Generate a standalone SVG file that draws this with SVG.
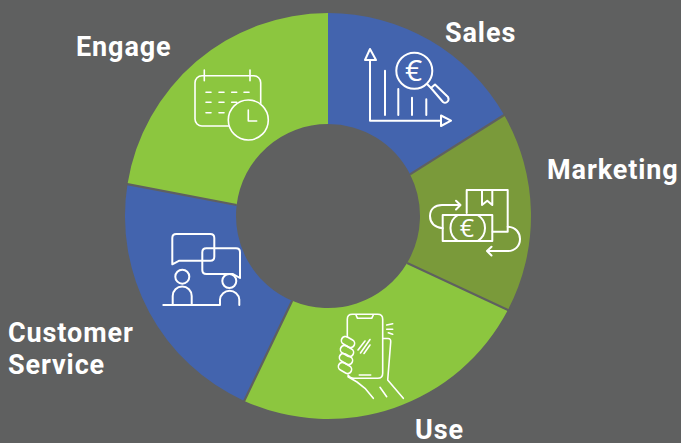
<svg xmlns="http://www.w3.org/2000/svg" width="681" height="443" viewBox="0 0 681 443">
<style>
.blue{fill:#4364ae}
.green{fill:#8cc63f}
.olive{fill:#7a9a3a}
.div{stroke:#5f6060;stroke-width:2.200;fill:none}
.ic{fill:none;stroke:#fff;stroke-width:1.6;stroke-linecap:round;stroke-linejoin:round}
.th{stroke-width:2}
.lab{font-family:"Roboto","Liberation Sans",sans-serif;font-weight:700;font-size:27px;letter-spacing:.9px;fill:#fff}
.eu{font-family:"Open Sans","Liberation Sans",sans-serif;font-weight:400;fill:#fff;text-anchor:middle}
</style>
<rect width="681" height="443" fill="#5f6060"/>
<g id="segments">
<path class="blue" d="M328 13A203 203 0 0 1 504.130 115.100L410.030 174.340A92 92 0 0 0 328 124Z"/>
<path class="olive" d="M504.130 115.100A203 203 0 0 1 507.880 310.090L407.110 262.950A92 92 0 0 0 410.030 174.340Z"/>
<path class="green" d="M507.880 310.090A203 203 0 0 1 244.220 400.880L292.120 300.720A92 92 0 0 0 407.110 262.950Z"/>
<path class="blue" d="M244.220 400.880A203 203 0 0 1 127.500 184.080L236.670 205A92 92 0 0 0 292.120 300.720Z"/>
<path class="green" d="M127.500 184.080A203 203 0 0 1 328 13V124A92 92 0 0 0 236.670 205Z"/>
</g>
<g id="dividers">
<path class="div" d="M505 114.500L410 174.340M509 310.600L407.110 262.950M243.700 402L292.120 300.720M126 183.800L236.670 205"/>
</g>
<g id="sales">
<g class="ic th">
<path d="M370 60V120.700H441M385 70.700V115M398.300 89V115M412 97.700V115M426.300 99.300V115"/>
<path d="M370 49L376 60H365ZM441 115.500L451 120.700L441 126Z"/>
<circle cx="414.300" cy="70.700" r="18"/>
<path d="M427 84L431 88"/>
<path d="M431 88L435 84.500L448 97Q449.500 100 447 102Q445 103.500 443 102Z"/>
</g>
<text class="eu" x="413.500" y="81" font-size="30">€</text>
<text class="lab" x="445" y="42">Sales</text>
</g>
<g id="marketing">
<g class="ic th" stroke-linecap="butt">
<path d="M466.700 213V190H507.700V231.700H492.700"/>
<path d="M482 190V205L487.300 200.700L492.300 205V190"/>
<rect x="442.700" y="215" width="49.600" height="26"/>
<path d="M458 215A15 15 0 0 0 458 241M477.500 215A15 15 0 0 1 477.500 241"/>
<path d="M442.700 228.300C434 227 430 222 430 216C430 209 435 205 442 205H460M456 200.700L460.500 205L456 209.500"/>
<path d="M507.700 226.700C516 227 520 233 520 239C520 246 515 251 508 251H487.500M491.500 246.700L487 251L491.500 255.500"/>
</g>
<text class="eu" x="467" y="237" font-size="25">€</text>
<text class="lab" x="547" y="179">Marketing</text>
</g>
<g id="use">
<g class="ic">
<path d="M347.300 337V319.300Q347.300 314.300 352.300 314.300H377.700Q382.700 314.300 382.700 319.300V373.300Q382.700 378.300 377.700 378.300H354Q350 378.300 348 375"/>
<path d="M356 315L357.500 318.300H371.700L373.300 315M359.300 375H370.700"/>
<path d="M358 350L365 341M360.500 353L370 339.500M364 353.500L370 345"/>
<path d="M386.700 325L392.700 323.700M386.700 329.300L392.700 329.300M388.300 332.700L392.700 334.300"/>
<rect x="341" y="338" width="14" height="8" rx="4" transform="rotate(30 348 342)"/>
<rect x="340" y="347" width="14" height="8" rx="4" transform="rotate(30 347 351)"/>
<rect x="339" y="355" width="14" height="8" rx="4" transform="rotate(30 346 359)"/>
<rect x="338" y="364" width="14" height="8" rx="4" transform="rotate(30 345 368)"/>
<path d="M383 338.500H388Q391 338.500 390.700 342L387.700 380L403.300 398.300"/>
<path d="M348 376.700L357 382L365 388.300L373.300 398.300M380 387.300L386.700 396.700"/>
</g>
<text class="lab" x="415" y="439">Use</text>
</g>
<g id="customer-service">
<g class="ic th">
<path d="M172.300 264.300V238Q172.300 234 176.300 234H210.300Q214.300 234 214.300 238V256.700Q214.300 260.700 210.300 260.700H179.300Z"/>
<path d="M240 278V252.300Q240 248.300 236 248.300H206.300Q202.300 248.300 202.300 252.300V270Q202.300 274 206.300 274H233Z"/>
<circle cx="182.300" cy="276.700" r="7"/>
<circle cx="229.300" cy="281" r="7"/>
<path d="M172.700 305V296A9.500 9.500 0 0 1 191.700 296V305M163.300 305H220V299.500A9.700 9.700 0 0 1 239.300 299.500V305"/>
</g>
<text class="lab" x="8" y="342">Customer</text>
<text class="lab" x="8" y="374">Service</text>
</g>
<g id="engage">
<g class="ic">
<rect x="195" y="75.700" width="65.700" height="50.300" rx="7"/>
<path d="M204.300 70V80.700M250 70V80.700"/>
<path d="M206 92.300H211M219 92.300H224M231.700 92.300H236.700M244 92.300H249M206 102.300H211M219 102.300H224M231.700 102.300H236.700M206 112.700H211M219 112.700H224"/>
<circle cx="248.300" cy="120" r="20" fill="#8cc63f"/>
<path d="M248.300 110V121H256.700"/>
</g>
<text class="lab" x="76" y="56">Engage</text>
</g>
<g id="connectors"/>
</svg>
